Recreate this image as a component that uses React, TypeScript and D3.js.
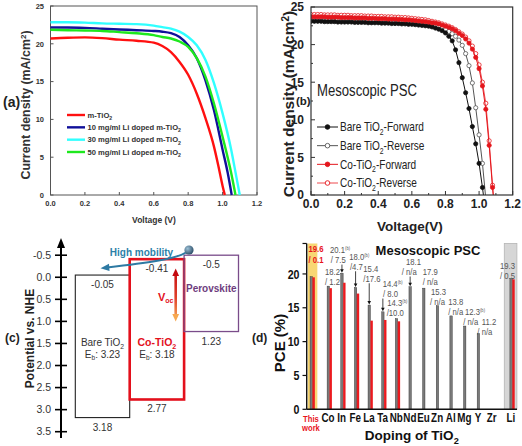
import React from "react";
import * as d3 from "d3";

const SANS = "'Liberation Sans', Arial, Helvetica, sans-serif";
const NARROW_SCALE = 0.82;

// ---------- (a) Li-doped J-V ----------
const aNames = ["m-TiO2", "10 mg/ml Li doped m-TiO2", "30 mg/ml Li doped m-TiO2", "50 mg/ml Li doped m-TiO2"];
const aColors = ["#ff1010", "#10109a", "#30ffff", "#1ee81e"];
const mTiO2V = [0, 0.1, 0.2, 0.3, 0.4, 0.5, 0.6, 0.65, 0.7, 0.75, 0.8, 0.85, 0.9, 0.95, 0.975, 1.0, 1.013];
const mTiO2J = [20.7, 20.8, 20.85, 20.75, 20.55, 20.4, 20.15, 19.7, 18.9, 17.6, 15.9, 13.4, 10.2, 6.4, 3.9, 1.2, 0];
const li10V = [0, 0.1, 0.2, 0.3, 0.4, 0.5, 0.6, 0.65, 0.7, 0.75, 0.8, 0.85, 0.9, 0.95, 1.0, 1.03, 1.053];
const li10J = [22.15, 22.15, 22.1, 22.0, 21.9, 21.8, 21.7, 21.6, 21.4, 20.9, 19.8, 18.1, 15.2, 11.2, 6.0, 2.9, 0];
const li30V = [0, 0.1, 0.2, 0.3, 0.4, 0.5, 0.6, 0.65, 0.7, 0.75, 0.8, 0.85, 0.9, 0.95, 1.0, 1.05, 1.08, 1.1];
const li30J = [22.85, 22.85, 22.8, 22.7, 22.65, 22.6, 22.4, 22.2, 22.0, 21.6, 20.9, 19.8, 17.9, 14.8, 10.8, 6.0, 2.4, 0];
const li50V = [0, 0.1, 0.2, 0.3, 0.4, 0.5, 0.6, 0.65, 0.7, 0.75, 0.8, 0.85, 0.9, 0.95, 1.0, 1.05, 1.075];
const li50J = [21.85, 21.8, 21.75, 21.7, 21.55, 21.4, 21.15, 20.9, 20.7, 20.3, 19.6, 18.1, 15.7, 12.1, 7.7, 2.9, 0];
const aVoltTicks = [0, 0.2, 0.4, 0.6, 0.8, 1.0, 1.2];
const aCurrTicks = [0, 5, 10, 15, 20, 25];

// ---------- (b) Co-doped J-V (sweep every 0.02 V) ----------
const bNames = ["Bare TiO2-Forward", "Bare TiO2-Reverse", "Co-TiO2-Forward", "Co-TiO2-Reverse"];
const bareFwdJ = [23.1, 23.1, 23.1, 23.1, 23.05, 23.05, 23.05, 23.05, 23.0, 23.0, 23.0,
  23.0, 23.0, 22.95, 22.95, 22.95, 22.95, 22.9, 22.9, 22.9, 22.9,
  22.85, 22.85, 22.85, 22.8, 22.8, 22.8, 22.75, 22.75, 22.7, 22.7,
  22.65, 22.6, 22.55, 22.5, 22.45, 22.35, 22.2, 22.05, 21.85, 21.55,
  21.1, 20.5, 19.3, 17.6, 15.6, 13.6, 11.5, 9.1, 6.8, 4.2,
  1.0, -2.5];
const bareRevJ = [23.35, 23.35, 23.35, 23.35, 23.3, 23.3, 23.3, 23.3, 23.3, 23.25, 23.25,
  23.25, 23.25, 23.2, 23.2, 23.2, 23.2, 23.15, 23.15, 23.15, 23.1,
  23.1, 23.1, 23.05, 23.05, 23.0, 23.0, 22.95, 22.95, 22.9, 22.9,
  22.85, 22.8, 22.75, 22.7, 22.6, 22.5, 22.4, 22.3, 22.15, 22.0,
  21.75, 21.45, 21.1, 20.6, 19.9, 18.8, 17.2, 14.9, 11.6, 8.0,
  4.2, -0.5];
const coFwdJ = [23.7, 23.7, 23.7, 23.7, 23.7, 23.65, 23.65, 23.65, 23.65, 23.6, 23.6,
  23.6, 23.6, 23.55, 23.55, 23.55, 23.55, 23.5, 23.5, 23.5, 23.45,
  23.45, 23.45, 23.4, 23.4, 23.4, 23.35, 23.35, 23.3, 23.3, 23.25,
  23.2, 23.15, 23.1, 23.05, 23.0, 22.9, 22.85, 22.75, 22.6, 22.45,
  22.3, 22.1, 21.85, 21.5, 21.2, 20.75, 20.2, 19.4, 18.3, 16.8,
  14.5, 11.4, 6.6, 1.0, -4];
const coRevJ = [24.0, 24.0, 24.0, 24.0, 23.95, 23.95, 23.95, 23.95, 23.9, 23.9, 23.9,
  23.9, 23.85, 23.85, 23.85, 23.85, 23.8, 23.8, 23.8, 23.75, 23.75,
  23.75, 23.7, 23.7, 23.7, 23.65, 23.65, 23.6, 23.6, 23.55, 23.5,
  23.45, 23.4, 23.35, 23.3, 23.2, 23.1, 23.0, 22.9, 22.75, 22.6,
  22.45, 22.25, 22.0, 21.7, 21.4, 21.0, 20.5, 19.8, 18.8, 17.3,
  15.0, 12.2, 7.2, 1.3, -4];
const bVoltTicks = [0, 0.2, 0.4, 0.6, 0.8, 1.0, 1.2];
const bCurrTicks = [0, 5, 10, 15, 20, 25];

// ---------- (c) band diagram ----------
const cMaterials = ["Bare TiO2", "Co-TiO2", "Perovskite"];
const cCBM = [-0.05, -0.41, -0.5];
const cVBM = [3.18, 2.77, 1.23];
const cGap = ["3.23", "3.18", ""];
const cTicks = [-0.5, 0, 0.5, 1.0, 1.5, 2.0, 2.5, 3.0, 3.5];

// ---------- (d) PCE of doped TiO2 ----------
const dCats = ["This work", "Co", "In", "Fe", "La", "Ta", "Nb", "Nd", "Eu", "Zn", "Al", "Mg", "Y", "Zr", "Li"];
const dPCE = [19.6, 18.2, 20.1, 18.0, 15.4, 14.4, 13.4, 18.1, 17.9, 15.3, 13.8, 12.3, 11.2, null, 19.3];
const dRedPCE = [19.5, 17.9, 18.7, 17.1, 13.1, 13.2, 13.0, null, null, null, null, null, null, null, 19.2];
const dFirst = ["19.6", "18.2", "20.1", "18.0", "15.4", "14.4", "14.3", "18.1", "17.9", "15.3", "13.8", "12.3", "11.2", "", "19.3"];
const dSecond = ["/ 0.1", "/ 1.2", "/ 7.5", "/4.7", "/17.6", "/ 8.0", "/10.0", "/ n/a", "/ n/a", "/ n/a", "/ n/a", "/ n/a", "/ n/a", "", "/ 0.5"];
const dRefB = [false, false, true, true, false, true, true, false, false, false, false, true, false, false, false];
const dArrow = [false, false, true, true, true, true, false, true, false, false, false, false, false, false, false];
const dTicks = [0, 5, 10, 15, 20];

// annotation layout (offsets in px)
const dLayout = [
  { dx1: -4, dx2: -4, lift: 17.3 }, { dx1: -4.5, dx2: -4.5, lift: 4.4 }, { dx1: -13.1, dx2: -12.4, lift: 13.2 },
  { dx1: -7.5, dx2: -6.8, lift: 20.7 }, { dx1: -7.1, dx2: -7.1, lift: 26.3 }, { dx1: -1.4, dx2: -1, lift: 17.8 },
  { dx1: -10.4, dx2: -11, lift: 5.6 }, { dx1: -5.3, dx2: -9.6, lift: 14.8 }, { dx1: -2.3, dx2: -2.3, lift: 6.4 },
  { dx1: -7.6, dx2: -8.6, lift: 4 }, { dx1: -4, dx2: -4, lift: 4.2 }, { dx1: -0.9, dx2: -2.6, lift: 4.3 },
  { dx1: 2.2, dx2: -2.2, lift: 1.8 }, { dx1: 0, dx2: 0, lift: 0 }, { dx1: -12.3, dx2: -12.3, lift: 2.6 },
];

function chem(text: string, fs: number, key = "") {
  const parts = text.split("TiO2");
  const out: any[] = [];
  parts.forEach((p, i) => {
    const t = p + (i < parts.length - 1 ? "TiO" : "");
    if (i > 0) {
      out.push(<tspan key={key + "s" + i} dy={fs * 0.3} fontSize={fs * 0.68}>2</tspan>);
      out.push(<tspan key={key + "p" + i} dy={-fs * 0.3}>{t}</tspan>);
    } else {
      out.push(<tspan key={key + "p" + i}>{t}</tspan>);
    }
  });
  return out;
}

// condensed text (Arial Narrow look) via horizontal scaling
function NText(props: any) {
  const { x, y, children, ...rest } = props;
  return (
    <g transform={`translate(${x},${y}) scale(${NARROW_SCALE},1)`}>
      <text x={0} y={0} fontFamily={SANS} {...rest}>{children}</text>
    </g>
  );
}

function PanelA() {
  const x = d3.scaleLinear().domain([0, 1.2]).range([50.5, 257]);
  const y = d3.scaleLinear().domain([0, 25]).range([195, 6]);
  const mk = (vs: number[], js: number[]) =>
    d3.line<number>().x((_, i) => x(vs[i])).y((d) => y(d)).curve(d3.curveMonotoneX)(js) || "";
  const paths = [mk(mTiO2V, mTiO2J), mk(li10V, li10J), mk(li30V, li30J), mk(li50V, li50J)];
  const legY = d3.scalePoint<number>().domain([0, 1, 2, 3]).range([115, 152]);
  return (
    <g fontFamily={SANS}>
      <rect x={x(0)} y={y(25)} width={x(1.2) - x(0)} height={y(0) - y(25)} fill="none" stroke="#555" strokeWidth={1} />
      {aCurrTicks.map((t) => (
        <g key={"ay" + t}>
          <line x1={x(0)} x2={x(0) + 3} y1={y(t)} y2={y(t)} stroke="#555" />
          <text x={44} y={y(t) + 2.8} fontSize={7.5} fontWeight="bold" fill="#333" textAnchor="end">{t}</text>
        </g>
      ))}
      {aVoltTicks.map((t) => (
        <g key={"ax" + t}>
          <line x1={x(t)} x2={x(t)} y1={y(0)} y2={y(0) - 3} stroke="#555" />
          <text x={x(t)} y={206} fontSize={7.5} fontWeight="bold" fill="#333" textAnchor="middle">{t.toFixed(1)}</text>
        </g>
      ))}
      {paths.map((p, i) => (
        <path key={"ap" + i} d={p} fill="none" stroke={aColors[i]} strokeWidth={2.4} />
      ))}
      {aNames.map((n, i) => (
        <g key={"al" + i}>
          <line x1={67} x2={85} y1={legY(i)!} y2={legY(i)!} stroke={aColors[i]} strokeWidth={2.4} />
          <text x={87.5} y={legY(i)! + 2.8} fontSize={7.6} fontWeight="bold" fill="#333">{chem(n, 7.6, "a" + i)}</text>
        </g>
      ))}
      <text transform="translate(30,105) rotate(-90)" fontSize={12.4} fontWeight="bold" fill="#333" textAnchor="middle">
        <tspan>Current density (mA/cm</tspan>
        <tspan dy={-4} fontSize={8}>2</tspan>
        <tspan dy={4}>)</tspan>
      </text>
      <text x={154} y={223} fontSize={8.5} fontWeight="bold" fill="#333" textAnchor="middle">Voltage (V)</text>
      <text x={3} y={107} fontSize={14} fontWeight="bold" fill="#222">(a)</text>
    </g>
  );
}

function PanelB() {
  const x = d3.scaleLinear().domain([0, 1.2]).range([311, 512.7]);
  const y = d3.scaleLinear().domain([0, 25]).range([195, 7]);
  const grid = d3.range(56).map((i) => +(i * 0.02).toFixed(2));
  const series = [bareFwdJ, bareRevJ, coFwdJ, coRevJ];
  const lineCol = ["#111", "#555", "#e4161c", "#ee4a4e"];
  const mkCol = ["#111", "#555", "#e4161c", "#e4161c"];
  const filled = [true, false, true, false];
  const order = [1, 0, 3, 2];
  const line = (js: number[]) => d3.line<number>().x((_, i) => x(grid[i])).y((d) => y(d))(js) || "";
  const legY = d3.scalePoint<number>().domain([0, 1, 2, 3]).range([127, 183]);
  const minor = d3.range(0, 1.21, 0.1);
  const minorY = d3.range(0, 25.1, 2.5);
  return (
    <g>
      <defs>
        <clipPath id="clipB">
          <rect x={x(0)} y={y(25)} width={x(1.2) - x(0)} height={y(0) - y(25)} />
        </clipPath>
      </defs>
      <g clipPath="url(#clipB)">
        {order.map((k) => (
          <g key={"bs" + k}>
            <path d={line(series[k])} fill="none" stroke={lineCol[k]} strokeWidth={1} />
            {series[k].map((j, i) => (
              <circle key={i} cx={x(grid[i])} cy={y(j)} r={2.1}
                fill={filled[k] ? mkCol[k] : "#fff"} stroke={mkCol[k]} strokeWidth={0.8} />
            ))}
          </g>
        ))}
      </g>
      <rect x={x(0)} y={y(25)} width={x(1.2) - x(0)} height={y(0) - y(25)} fill="none" stroke="#333" strokeWidth={1.2} />
      {minor.map((t, i) => (
        <line key={"bmx" + i} x1={x(t)} x2={x(t)} y1={y(0)} y2={y(0) - (i % 2 === 0 ? 4 : 2)} stroke="#333" />
      ))}
      {minorY.map((t, i) => (
        <line key={"bmy" + i} x1={x(0)} x2={x(0) + (i % 2 === 0 ? 4 : 2)} y1={y(t)} y2={y(t)} stroke="#333" />
      ))}
      {bVoltTicks.map((t) => (
        <text key={"bx" + t} x={x(t)} y={208} fontFamily={SANS} fontSize={12} fontWeight="bold" fill="#222" textAnchor="middle">{t.toFixed(1)}</text>
      ))}
      {bCurrTicks.map((t) => (
        <text key={"by" + t} x={304} y={y(t) + 4.3} fontFamily={SANS} fontSize={12} fontWeight="bold" fill="#222" textAnchor="end">{t}</text>
      ))}
      <text transform="translate(294,104) rotate(-90)" fontFamily={SANS} fontSize={15.5} fontWeight="bold" fill="#222" textAnchor="middle">
        <tspan>Current density (mA/cm</tspan>
        <tspan dy={-5} fontSize={10}>2</tspan>
        <tspan dy={5}>)</tspan>
      </text>
      <text x={410} y={231} fontFamily={SANS} fontSize={13.5} fontWeight="bold" fill="#222" textAnchor="middle">Voltage(V)</text>
      <text x={296} y={104.5} fontFamily={SANS} fontSize={11.5} fontWeight="bold" fill="#222">(b)</text>
      <NText x={317} y={95.5} fontSize={16} fill="#222">Mesoscopic PSC</NText>
      {bNames.map((n, k) => (
        <g key={"bl" + k}>
          <line x1={317} x2={338} y1={legY(k)!} y2={legY(k)!} stroke={lineCol[k]} strokeWidth={1} />
          <circle cx={327.5} cy={legY(k)!} r={2.3} fill={filled[k] ? mkCol[k] : "#fff"} stroke={mkCol[k]} strokeWidth={0.9} />
          <NText x={340} y={legY(k)! + 4.3} fontSize={12.3} fill="#222">{chem(n, 12.3, "b" + k)}</NText>
        </g>
      ))}
    </g>
  );
}

function PanelC() {
  const y = d3.scaleLinear().domain([-0.5, 3.5]).range([255.2, 431.7]);
  const xb = d3.scaleBand().domain(cMaterials).range([75.3, 238.5]);
  const axX = 61;
  const boxStroke = ["#222", "#e3101c", "#7a4c8a"];
  const boxW = [1.1, 2.6, 1.3];
  const fs = 10;
  return (
    <g fontFamily={SANS}>
      <defs>
        <linearGradient id="vocGrad" gradientUnits="userSpaceOnUse" x1="0" y1="268" x2="0" y2="322">
          <stop offset="0" stopColor="#c40a10" />
          <stop offset="0.55" stopColor="#e0402a" />
          <stop offset="1" stopColor="#f7b45a" />
        </linearGradient>
        <radialGradient id="ball" cx="0.35" cy="0.35" r="0.7">
          <stop offset="0" stopColor="#9cc0d6" />
          <stop offset="1" stopColor="#2a4c66" />
        </radialGradient>
      </defs>
      <line x1={axX} x2={axX} y1={438} y2={245} stroke="#000" strokeWidth={2} />
      <polygon points={`${axX},238 ${axX - 4},248 ${axX + 4},248`} fill="#000" />
      {cTicks.map((t) => (
        <g key={"ct" + t}>
          <line x1={axX - 6} x2={axX + 6} y1={y(t)} y2={y(t)} stroke="#000" strokeWidth={1.6} />
          <text x={51} y={y(t) + 3.7} fontSize={10.5} fill="#333" textAnchor="end">{t.toFixed(1)}</text>
        </g>
      ))}
      <text transform="translate(34,338.5) rotate(-90)" fontSize={12} fontWeight="bold" fill="#222" textAnchor="middle">Potential vs. NHE</text>
      <text x={5} y={342} fontSize={12} fontWeight="bold" fill="#222">(c)</text>
      {cMaterials.map((m, i) => {
        const x0 = xb(m)!;
        const w = xb.bandwidth();
        const cx = x0 + w / 2;
        return (
          <g key={"cb" + i}>
            <rect x={x0} y={y(cCBM[i])} width={w} height={y(cVBM[i]) - y(cCBM[i])} fill="none" stroke={boxStroke[i]} strokeWidth={boxW[i]} />
            <text x={cx} y={y(cCBM[i]) + 13} fontSize={fs} fill="#333" textAnchor="middle">{cCBM[i] === -0.5 ? "-0.5" : cCBM[i].toFixed(2)}</text>
            <text x={cx} y={y(cVBM[i]) + 13} fontSize={fs} fill="#333" textAnchor="middle">{cVBM[i].toFixed(2)}</text>
          </g>
        );
      })}
      <text x={xb("Bare TiO2")! + xb.bandwidth() / 2} y={346} fontSize={fs} fill="#333" textAnchor="middle">{chem("Bare TiO2", fs, "c1")}</text>
      <text x={xb("Co-TiO2")! + xb.bandwidth() / 2} y={346} fontSize={10.5} fontWeight="bold" fill="#e3101c" textAnchor="middle">{chem("Co-TiO2", 10.5, "c2")}</text>
      {[0, 1].map((i) => (
        <text key={"eb" + i} x={xb(cMaterials[i])! + xb.bandwidth() / 2} y={357.5} fontSize={fs} fill="#333" textAnchor="middle">
          <tspan>E</tspan>
          <tspan dy={2.5} fontSize={6.5}>b</tspan>
          <tspan dy={-2.5}>{": " + cGap[i]}</tspan>
        </text>
      ))}
      <text x={xb("Perovskite")! + xb.bandwidth() / 2} y={291.5} fontSize={10} fontWeight="bold" fill="#6e3d7e" textAnchor="middle">Perovskite</text>
      <rect x={174.4} y={274} width={2.6} height={42} fill="url(#vocGrad)" />
      <polygon points="175.7,268.5 172.3,276 179.1,276" fill="#c40a10" />
      <polygon points="175.7,321.5 172.3,314 179.1,314" fill="#f7a850" />
      <text x={158} y={300.5} fontSize={11} fontWeight="bold" fill="#e3101c">
        <tspan>V</tspan>
        <tspan dy={2.5} fontSize={7}>oc</tspan>
      </text>
      <path d="M186,252.5 C176,259 146,263 107,267.5" fill="none" stroke="#2e7aa3" strokeWidth={2} />
      <polygon points="100.5,268.3 109,263.8 109.5,271" fill="#2e7aa3" />
      <circle cx={189} cy={250} r={4.6} fill="url(#ball)" />
      <text x={141.5} y={255.5} fontSize={10} fontWeight="bold" fill="#2b7fa8" textAnchor="middle">High mobility</text>
    </g>
  );
}

function PanelD() {
  const y = d3.scaleLinear().domain([0, 25]).range([409.3, 240.1]);
  const mid = dCats.slice(1, 14);
  const xp = d3.scalePoint<string>().domain(mid).range([329.5, 493.2]);
  const step = xp.step();
  const xJ = (c: string) => (c === "This work" ? xp("Co")! - 1.25 * step : c === "Li" ? xp("Zr")! + 1.4 * step : xp(c)!);
  const bw = 2.4;
  const axisTop = y(24.5);
  return (
    <g>
      <rect x={xJ("This work") - 4.7} y={axisTop} width={9.6} height={y(0) - axisTop} fill="#f8d774" />
      <rect x={xJ("Li") - 8} y={axisTop} width={12.6} height={y(0) - axisTop} fill="#d6d6d6" stroke="#b5b5b5" strokeWidth={0.8} />
      {dCats.map((c, i) => {
        const xj = xJ(c);
        const v = dPCE[i];
        const r = dRedPCE[i];
        return (
          <g key={"db" + i}>
            {v != null && <rect x={xj - bw} y={y(v)} width={bw} height={y(0) - y(v)} fill="#7a7a7a" stroke="#2a2a2a" strokeWidth={0.4} />}
            {r != null && <rect x={xj} y={y(r)} width={bw} height={y(0) - y(r)} fill="#ec1a1f" />}
          </g>
        );
      })}
      <line x1={306.7} x2={306.7} y1={axisTop} y2={y(0)} stroke="#111" strokeWidth={1.4} />
      <line x1={306.7} x2={517} y1={y(0)} y2={y(0)} stroke="#111" strokeWidth={1.4} />
      <line x1={302.5} x2={306.7} y1={axisTop} y2={axisTop} stroke="#111" strokeWidth={1.2} />
      {dTicks.map((t) => (
        <g key={"dt" + t}>
          <line x1={302.5} x2={306.7} y1={y(t)} y2={y(t)} stroke="#111" strokeWidth={1.2} />
          <NText x={299.5} y={y(t) + 4.6} fontSize={13} fontWeight="bold" fill="#111" textAnchor="end">{t}</NText>
        </g>
      ))}
      {dCats.map((c, i) => {
        const v = dPCE[i];
        if (v == null) return null;
        const L = dLayout[i];
        const xj = xJ(c);
        const top = y(v);
        const c2 = top - L.lift;
        const c1 = c2 - 10.3;
        const red = i === 0;
        const col = red ? "#e8141c" : "#555";
        return (
          <g key={"da" + i}>
            <NText x={xj + L.dx1} y={c1 + 3.3} fontSize={9.4} fill={col} fontWeight={red ? "bold" : "normal"}>
              <tspan>{dFirst[i]}</tspan>
              {dRefB[i] && <tspan dy={-3} fontSize={5}>(b)</tspan>}
            </NText>
            <NText x={xj + L.dx2} y={c2 + 3.3} fontSize={9.4} fill={col} fontWeight={red ? "bold" : "normal"}>{dSecond[i]}</NText>
            {dArrow[i] && (
              <g>
                <line x1={xj - 1.2} x2={xj - 1.2} y1={c2 + 4.5} y2={top - 3} stroke="#111" strokeWidth={0.8} />
                <polygon points={`${xj - 1.2},${top - 0.5} ${xj - 3},${top - 4} ${xj + 0.6},${top - 4}`} fill="#111" />
              </g>
            )}
          </g>
        );
      })}
      <text x={428} y={255} fontFamily={SANS} fontSize={13} fontWeight="bold" fill="#111" textAnchor="middle">Mesoscopic PSC</text>
      {dCats.map((c, i) =>
        c === "This work" ? (
          <g key={"dl" + i}>
            <NText x={xJ(c) - 1.5} y={421.5} fontSize={9.3} fontWeight="bold" fill="#e8141c" textAnchor="middle">This</NText>
            <NText x={xJ(c) - 1.5} y={430.5} fontSize={9.3} fontWeight="bold" fill="#e8141c" textAnchor="middle">work</NText>
          </g>
        ) : (
          <NText key={"dl" + i} x={xJ(c) - 1.5} y={422} fontSize={12} fontWeight="bold" fill="#111" textAnchor="middle">{c}</NText>
        )
      )}
      <text x={411.7} y={440} fontFamily={SANS} fontSize={13.5} fontWeight="bold" fill="#111" textAnchor="middle">{chem("Doping of TiO2", 13.5, "dx")}</text>
      <text transform="translate(285,343) rotate(-90)" fontFamily={SANS} fontSize={15} fontWeight="bold" fill="#111" textAnchor="middle">PCE (%)</text>
      <text x={252} y={342} fontFamily={SANS} fontSize={12} fontWeight="bold" fill="#222">(d)</text>
    </g>
  );
}

export default function App() {
  return (
    <svg width={522} height={446} viewBox="0 0 522 446" style={{ position: "absolute", left: 0, top: 0, background: "#fff" }}>
      <rect x={0} y={0} width={522} height={446} fill="#fff" />
      <PanelA />
      <PanelB />
      <PanelC />
      <PanelD />
    </svg>
  );
}
